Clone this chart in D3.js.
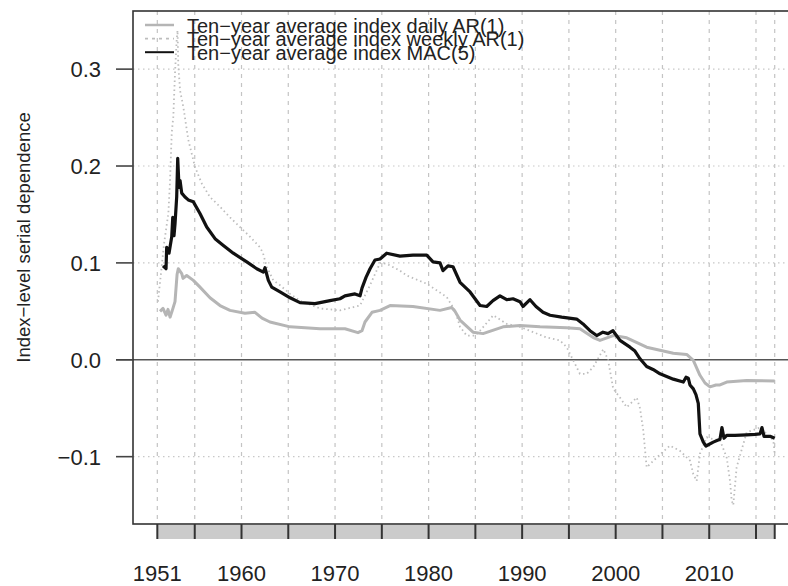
<!DOCTYPE html>
<html>
<head>
<meta charset="utf-8">
<script src="https://cdn.jsdelivr.net/npm/d3@7"></script>
<style>
  body { margin: 0; background: #fff; }
  svg { display: block; }
</style>
</head>
<body>
<div id="container"></div>
<script>
/* DATA */
const dailyAR = [
  [1951.29, 0.050], [1951.61, 0.053], [1951.93, 0.046], [1952.14, 0.052], [1952.36, 0.044],
  [1952.57, 0.050], [1952.89, 0.060], [1953.11, 0.088], [1953.24, 0.094], [1953.61, 0.089],
  [1953.75, 0.084], [1954.14, 0.087], [1954.85, 0.082], [1955.56, 0.075], [1956.63, 0.064],
  [1957.70, 0.056], [1958.77, 0.051], [1960.37, 0.048], [1961.44, 0.049], [1962.19, 0.043],
  [1963.04, 0.039], [1965.19, 0.034], [1968.39, 0.032], [1971.06, 0.032], [1972.45, 0.028],
  [1972.88, 0.030], [1973.20, 0.039], [1973.95, 0.049], [1974.81, 0.051], [1975.88, 0.056],
  [1978.33, 0.055], [1981.22, 0.051], [1982.47, 0.054], [1982.82, 0.050], [1983.36, 0.041],
  [1984.75, 0.0285], [1985.82, 0.027], [1987.96, 0.034], [1989.77, 0.0355], [1991.91, 0.034],
  [1994.76, 0.033], [1996.18, 0.032], [1997.60, 0.023], [1998.32, 0.020], [1999.74, 0.025],
  [2001.18, 0.0227], [2003.31, 0.013], [2006.16, 0.0068], [2007.59, 0.0055], [2008.30, -0.0007],
  [2009.01, -0.016], [2009.55, -0.024], [2010.08, -0.028], [2010.72, -0.026], [2011.15, -0.026],
  [2011.87, -0.023], [2014.00, -0.0214], [2017.00, -0.022]
]

const weeklyAR = [
  [1951.07, 0.060], [1951.40, 0.090], [1951.72, 0.120], [1952.18, 0.151], [1952.36, 0.185],
  [1952.54, 0.234], [1952.71, 0.251], [1952.89, 0.296], [1953.07, 0.330], [1953.16, 0.340],
  [1953.24, 0.305], [1953.43, 0.278], [1953.78, 0.261], [1954.31, 0.227], [1955.03, 0.199],
  [1955.75, 0.182], [1956.63, 0.168], [1957.70, 0.158], [1958.77, 0.147], [1959.84, 0.137],
  [1960.91, 0.127], [1961.98, 0.116], [1962.30, 0.110], [1962.69, 0.096], [1963.40, 0.082],
  [1964.12, 0.077], [1965.19, 0.068], [1966.25, 0.061], [1968.39, 0.053], [1970.53, 0.051],
  [1972.67, 0.056], [1973.74, 0.077], [1974.81, 0.100], [1975.52, 0.099], [1976.94, 0.092],
  [1977.66, 0.087], [1979.80, 0.0785], [1981.94, 0.0647], [1982.82, 0.051], [1983.36, 0.034],
  [1984.07, 0.025], [1984.96, 0.025], [1985.50, 0.030], [1986.92, 0.046], [1988.35, 0.037],
  [1989.77, 0.034], [1991.19, 0.0285], [1992.62, 0.023], [1994.04, 0.020], [1994.76, 0.013],
  [1995.47, -0.0007], [1996.18, -0.0145], [1996.90, -0.0145], [1997.60, -0.0076], [1998.68, 0.011],
  [1999.18, 0.000], [1999.74, -0.030], [2000.46, -0.039], [2001.18, -0.049], [2002.25, -0.039],
  [2002.60, -0.050], [2002.95, -0.073], [2003.31, -0.111], [2004.38, -0.101], [2005.80, -0.0886],
  [2006.87, -0.094], [2007.94, -0.104], [2008.30, -0.118], [2008.66, -0.125], [2009.01, -0.097],
  [2009.73, -0.080], [2010.43, -0.082], [2011.15, -0.083], [2011.87, -0.101], [2012.22, -0.125],
  [2012.40, -0.145], [2012.57, -0.150], [2012.93, -0.111], [2014.00, -0.075], [2015.43, -0.070],
  [2016.85, -0.083], [2017.00, -0.097]
]

const mac5 = [
  [1951.61, 0.097], [1951.93, 0.094], [1952.00, 0.116], [1952.25, 0.110], [1952.54, 0.127],
  [1952.65, 0.147], [1952.78, 0.128], [1952.89, 0.140], [1953.07, 0.168], [1953.18, 0.208],
  [1953.32, 0.178], [1953.43, 0.185], [1953.61, 0.172], [1953.96, 0.168], [1954.31, 0.165],
  [1954.85, 0.163], [1955.56, 0.151], [1956.28, 0.137], [1957.17, 0.125], [1958.06, 0.118],
  [1959.12, 0.110], [1960.56, 0.101], [1961.63, 0.094], [1962.33, 0.0905], [1962.51, 0.095],
  [1962.87, 0.082], [1963.23, 0.075], [1964.12, 0.070], [1965.19, 0.064], [1966.25, 0.059],
  [1967.86, 0.058], [1969.46, 0.061], [1970.53, 0.063], [1971.06, 0.066], [1972.13, 0.068],
  [1972.67, 0.066], [1972.88, 0.074], [1973.31, 0.085], [1973.74, 0.094], [1974.27, 0.103],
  [1974.81, 0.104], [1975.52, 0.110], [1976.94, 0.107], [1978.33, 0.108], [1979.80, 0.108],
  [1980.47, 0.101], [1981.22, 0.100], [1981.54, 0.092], [1982.07, 0.097], [1982.61, 0.096],
  [1983.36, 0.080], [1984.43, 0.070], [1985.50, 0.056], [1986.21, 0.055], [1986.88, 0.061],
  [1987.63, 0.066], [1988.35, 0.062], [1989.02, 0.063], [1989.77, 0.060], [1990.09, 0.055],
  [1990.84, 0.062], [1991.48, 0.055], [1992.23, 0.049], [1992.98, 0.046], [1994.23, 0.044],
  [1995.83, 0.042], [1996.51, 0.037], [1997.25, 0.030], [1997.97, 0.025], [1998.64, 0.0285],
  [1999.18, 0.027], [1999.71, 0.030], [2000.46, 0.020], [2001.53, 0.013], [2002.06, 0.009],
  [2002.60, 0.001], [2003.31, -0.007], [2003.99, -0.010], [2004.74, -0.0145], [2006.16, -0.020],
  [2007.23, -0.023], [2007.52, -0.018], [2007.76, -0.019], [2007.94, -0.026], [2008.30, -0.030],
  [2008.58, -0.036], [2008.83, -0.045], [2009.01, -0.0765], [2009.37, -0.085], [2009.65, -0.089],
  [2010.43, -0.085], [2011.15, -0.082], [2011.36, -0.070], [2011.58, -0.081], [2011.87, -0.078],
  [2012.75, -0.078], [2014.00, -0.0775], [2014.89, -0.077], [2015.43, -0.0765], [2015.64, -0.070],
  [2015.86, -0.079], [2016.50, -0.079], [2017.00, -0.081]
]

const xTickYears = [1951, 1955, 1960, 1965, 1970, 1975, 1980, 1985, 1990, 1995, 2000, 2005, 2010, 2015, 2017]
const xLabelYears = [1951, 1960, 1970, 1980, 1990, 2000, 2010]
const yTicks = [-0.1, 0.0, 0.1, 0.2, 0.3]
const legendLabels = [
  'Ten\u2212year average index daily AR(1)',
  'Ten\u2212year average index weekly AR(1)',
  'Ten\u2212year average index MAC(5)'
]

/* CONSTANTS */
const width = 788, height = 586
const plot = { left: 133, right: 799.4, top: 11, bottom: 524 }
const font = "'Liberation Sans', Arial, Helvetica, sans-serif"

// SCALES
const xScale = d3.scaleLinear()
  .domain([1948.4, 2019.64])
  .range([plot.left, plot.right])

const yScale = d3.scaleLinear()
  .domain([-0.1695, 0.360])
  .range([plot.bottom, plot.top])

// SVG
const svg = d3.select('#container')
  .append('svg')
  .attr('width', width)
  .attr('height', height)
  .style('font-family', font)

// GRID
svg.append('g')
  .selectAll('line')
  .data(xTickYears)
  .join('line')
  .attr('x1', d => xScale(d)).attr('x2', d => xScale(d))
  .attr('y1', plot.top).attr('y2', plot.bottom)
  .attr('stroke', '#c4c4c4')
  .attr('stroke-width', 1.2)
  .attr('stroke-dasharray', '4,5')

svg.append('g')
  .selectAll('line')
  .data(yTicks.filter(d => d !== 0))
  .join('line')
  .attr('x1', plot.left).attr('x2', plot.right)
  .attr('y1', d => yScale(d)).attr('y2', d => yScale(d))
  .attr('stroke', '#c8c8c8')
  .attr('stroke-width', 1.2)
  .attr('stroke-dasharray', '1.5,3.5')

// zero line (runs through the tick)
svg.append('line')
  .attr('x1', plot.left - 17).attr('x2', plot.right)
  .attr('y1', yScale(0)).attr('y2', yScale(0))
  .attr('stroke', '#555')
  .attr('stroke-width', 1.6)

// LINES
const lineGen = d3.line()
  .x(d => xScale(d[0]))
  .y(d => yScale(d[1]))

svg.append('path')
  .datum(weeklyAR)
  .attr('fill', 'none')
  .attr('stroke', '#bdbdbd')
  .attr('stroke-width', 1.8)
  .attr('stroke-dasharray', '1.5,3')
  .attr('d', lineGen)

svg.append('path')
  .datum(dailyAR)
  .attr('fill', 'none')
  .attr('stroke', '#b5b5b5')
  .attr('stroke-width', 3)
  .attr('stroke-linejoin', 'round')
  .attr('d', lineGen)

svg.append('path')
  .datum(mac5)
  .attr('fill', 'none')
  .attr('stroke', '#111')
  .attr('stroke-width', 3.2)
  .attr('stroke-linejoin', 'round')
  .attr('d', lineGen)

// FRAME
svg.append('rect')
  .attr('x', plot.left).attr('y', plot.top)
  .attr('width', plot.right - plot.left)
  .attr('height', plot.bottom - plot.top)
  .attr('fill', 'none')
  .attr('stroke', '#333')
  .attr('stroke-width', 1.6)

// Y AXIS
const yAxis = svg.append('g')
yAxis.selectAll('line')
  .data(yTicks)
  .join('line')
  .attr('x1', plot.left - 17).attr('x2', plot.left)
  .attr('y1', d => yScale(d)).attr('y2', d => yScale(d))
  .attr('stroke', '#444')
  .attr('stroke-width', 1.6)

yAxis.selectAll('text')
  .data(yTicks)
  .join('text')
  .attr('x', 101)
  .attr('y', d => yScale(d))
  .attr('dy', '0.36em')
  .attr('text-anchor', 'end')
  .attr('font-size', 22)
  .attr('fill', '#222')
  .text(d => d3.format('.1f')(d).replace('-', '\u2212'))

svg.append('text')
  .attr('transform', `translate(30,${(plot.top + plot.bottom) / 2 - 30}) rotate(-90)`)
  .attr('text-anchor', 'middle')
  .attr('font-size', 18.5)
  .attr('fill', '#222')
  .text('Index\u2212level serial dependence')

// X AXIS: grey band with ticks
const band = svg.append('g')
band.append('rect')
  .attr('x', xScale(1951))
  .attr('y', plot.bottom + 1)
  .attr('width', xScale(2017) - xScale(1951))
  .attr('height', 14)
  .attr('fill', '#cbcbcb')

band.selectAll('line')
  .data(xTickYears)
  .join('line')
  .attr('x1', d => xScale(d)).attr('x2', d => xScale(d))
  .attr('y1', plot.bottom).attr('y2', plot.bottom + 15)
  .attr('stroke', '#333')
  .attr('stroke-width', 2)

svg.append('g')
  .selectAll('text')
  .data(xLabelYears)
  .join('text')
  .attr('x', d => xScale(d))
  .attr('y', 581)
  .attr('text-anchor', 'middle')
  .attr('font-size', 22)
  .attr('fill', '#222')
  .text(d => d)

// LEGEND
const legendStyles = [
  { stroke: '#b5b5b5', width: 2.5, dash: null },
  { stroke: '#bdbdbd', width: 1.8, dash: '3,4' },
  { stroke: '#111', width: 2, dash: null }
]
const legend = svg.append('g')
legendLabels.forEach((label, i) => {
  const y = 25 + i * 13.6
  legend.append('line')
    .attr('x1', 145).attr('x2', 174)
    .attr('y1', y).attr('y2', y)
    .attr('stroke', legendStyles[i].stroke)
    .attr('stroke-width', legendStyles[i].width)
    .attr('stroke-dasharray', legendStyles[i].dash)
  legend.append('text')
    .attr('x', 187)
    .attr('y', y + 7.5)
    .attr('font-size', 20)
    .attr('fill', '#222')
    .text(label)
})
</script>
</body>
</html>
